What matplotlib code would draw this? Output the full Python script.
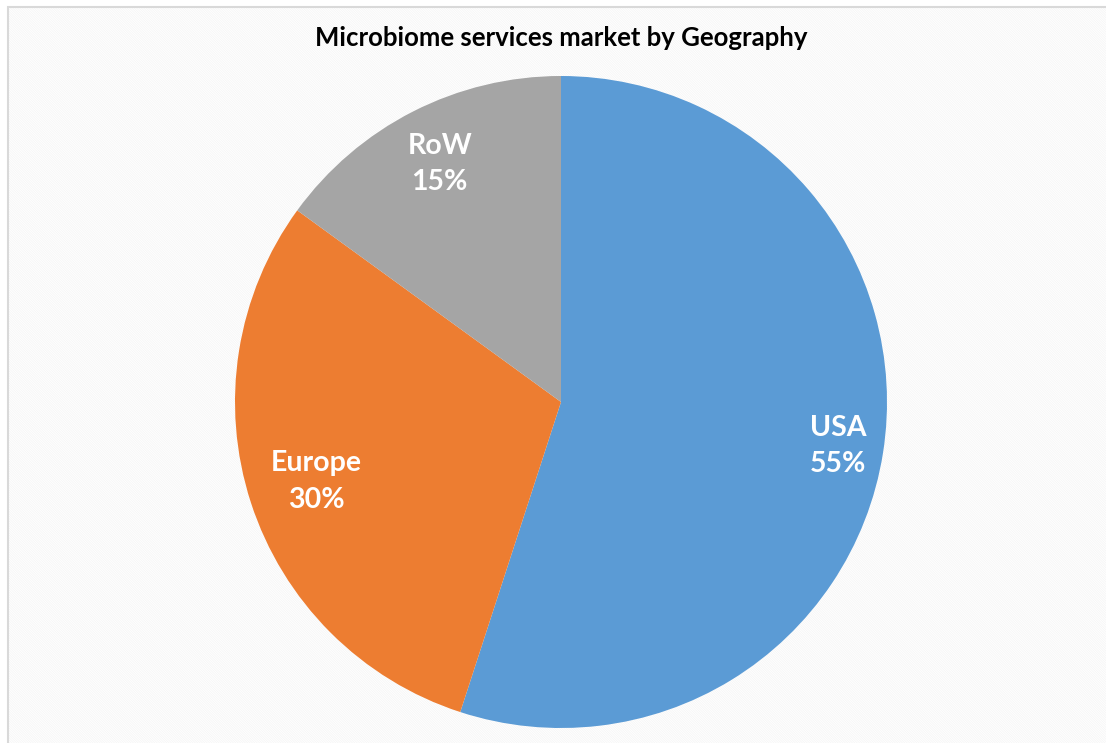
import matplotlib
matplotlib.use("Agg")
import matplotlib.pyplot as plt
from matplotlib.patches import Rectangle
import numpy as np

regions = ["USA", "Europe", "RoW"]
shares = [55, 30, 15]
colors = ["#5B9BD5", "#ED7D31", "#A5A5A5"]
title = "Microbiome services market by Geography"

plt.rcParams['font.family'] = ['Lato', 'DejaVu Sans']
plt.rcParams['hatch.linewidth'] = 0.6

W, H = 1106, 743
fig = plt.figure(figsize=(W / 100, H / 100), dpi=100)
fig.patch.set_facecolor("white")

# hatched chart-area background with light border
bg = Rectangle((8 / W, -0.1), 1.2, (H - 7) / H + 0.1, transform=fig.transFigure,
               facecolor="white", edgecolor="#f6f6f6", hatch="\\" * 14,
               linewidth=0, zorder=-3)
fig.patches.append(bg)
border = Rectangle((8 / W, -0.1), 1.2, (H - 7) / H + 0.1, transform=fig.transFigure,
                   facecolor="none", edgecolor="#d9d9d9", linewidth=1.5, zorder=-2)
fig.patches.append(border)

cx, cy, r = 561, H - 402, 326
ax = fig.add_axes([(cx - r) / W, (cy - r) / H, 2 * r / W, 2 * r / H])
ax.set_zorder(2)
ax.set_facecolor("none")
wedges, _ = ax.pie(shares, colors=colors, startangle=90, counterclock=False,
                   radius=1, wedgeprops=dict(linewidth=0))
ax.set_xlim(-1, 1)
ax.set_ylim(-1, 1)
ax.set_aspect("equal")
ax.axis("off")

label_r = [0.86, 0.79, 0.82]
for w, name, s, lr in zip(wedges, regions, shares, label_r):
    ang = np.deg2rad((w.theta1 + w.theta2) / 2)
    ax.text(lr * np.cos(ang), lr * np.sin(ang), f"{name}\n{s}%", ha="center", va="center",
            color="white", fontsize=20.5, fontweight="bold", linespacing=1.5)

fig.text(561 / W, (H - 38) / H, title, ha="center", va="center",
         fontsize=18.5, fontweight="bold", color="black", zorder=3)

fig.savefig("out.png", dpi=100)
